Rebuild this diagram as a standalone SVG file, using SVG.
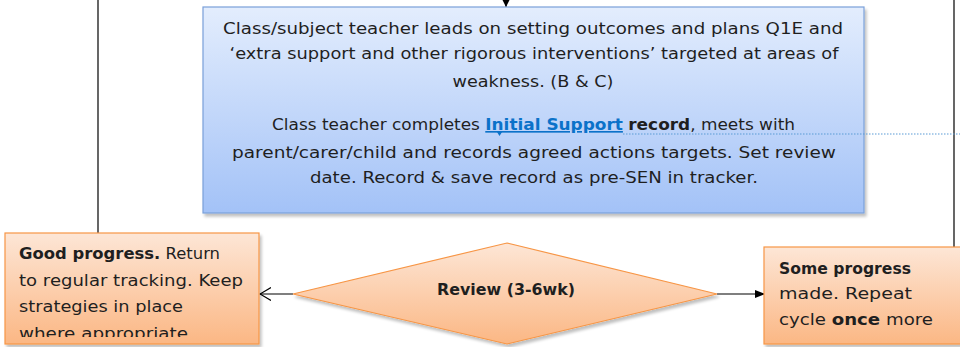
<svg xmlns="http://www.w3.org/2000/svg" width="960" height="347" viewBox="0 0 960 347">
<style>
  .t { font-family: "DejaVu Sans", "Liberation Sans", sans-serif; font-size: 16.5px; fill: #1f1f1f; }
  .b { font-weight: bold; }
  .link { fill: #0b72c9; font-weight: bold; text-decoration: underline; }
  .conn { stroke: #000; stroke-width: 1.2; fill: none; }
</style>
<defs>
  <linearGradient id="gBlue" x1="0" y1="0" x2="0" y2="1">
    <stop offset="0" stop-color="#e3edfd"/>
    <stop offset="1" stop-color="#a3c2f7"/>
  </linearGradient>
  <linearGradient id="gOrange" x1="0" y1="0" x2="0" y2="1">
    <stop offset="0" stop-color="#fde6d6"/>
    <stop offset="1" stop-color="#fbb784"/>
  </linearGradient>
  <filter id="shadow" x="-5%" y="-5%" width="115%" height="120%">
    <feGaussianBlur in="SourceAlpha" stdDeviation="1.5"/>
    <feOffset dx="2" dy="3" result="o"/>
    <feComponentTransfer><feFuncA type="linear" slope="0.25"/></feComponentTransfer>
    <feMerge><feMergeNode/><feMergeNode in="SourceGraphic"/></feMerge>
  </filter>
  <marker id="arrFill" markerWidth="10" markerHeight="10" refX="9" refY="5" orient="auto" markerUnits="userSpaceOnUse">
    <path d="M0,1 L10,5 L0,9 Z" fill="#000"/>
  </marker>
  <marker id="arrOpen" markerWidth="12" markerHeight="14" refX="11" refY="7" orient="auto" markerUnits="userSpaceOnUse">
    <path d="M0,0.5 L11,7 L0,13.5" fill="none" stroke="#000" stroke-width="1.2"/>
  </marker>
  <marker id="arrSmall" markerWidth="8" markerHeight="8" refX="7" refY="4" orient="auto" markerUnits="userSpaceOnUse">
    <path d="M0,0.5 L7,4 L0,7.5 Z" fill="#000"/>
  </marker>
  <clipPath id="clipLeft"><rect x="5" y="233" width="254" height="104"/></clipPath>
</defs>

<g id="connectors">
  <line class="conn" x1="98" y1="0" x2="98" y2="233"/>
  <line class="conn" x1="954" y1="0" x2="954" y2="247"/>
  <line class="conn" x1="506" y1="-10" x2="506" y2="7" marker-end="url(#arrSmall)"/>
  <line class="conn" x1="293" y1="294" x2="260" y2="294" marker-end="url(#arrOpen)"/>
  <line class="conn" x1="717" y1="294" x2="764" y2="294" marker-end="url(#arrFill)"/>
</g>

<g id="node-plan">
  <rect x="203" y="7" width="661" height="206" fill="url(#gBlue)" stroke="#7aa0d9" stroke-width="1.2" filter="url(#shadow)"/>
  <text class="t" x="533" y="34" text-anchor="middle" textLength="620" lengthAdjust="spacingAndGlyphs">Class/subject teacher leads on setting outcomes and plans Q1E and</text>
  <text class="t" x="534" y="59" text-anchor="middle" textLength="609" lengthAdjust="spacingAndGlyphs">‘extra support and other rigorous interventions’ targeted at areas of</text>
  <text class="t" x="533" y="87" text-anchor="middle" textLength="161" lengthAdjust="spacingAndGlyphs">weakness. (B &amp; C)</text>
  <text class="t" x="272" y="130" textLength="523" lengthAdjust="spacingAndGlyphs">Class teacher completes <tspan class="link">Initial Support</tspan> <tspan class="b">record</tspan>, meets with</text>
  <text class="t" x="534" y="158" text-anchor="middle" textLength="604" lengthAdjust="spacingAndGlyphs">parent/carer/child and records agreed actions targets.  Set review</text>
  <text class="t" x="534" y="183" text-anchor="middle" textLength="448" lengthAdjust="spacingAndGlyphs">date. Record &amp; save record as pre-SEN in tracker.</text>
</g>

<g id="comment-link">
  <path d="M497,132 L502,132 L499.5,136 Z" fill="#0b72c9"/>
  <line x1="623" y1="134" x2="960" y2="134" stroke="#5b9bd5" stroke-width="1.2" stroke-dasharray="1.5,1.5"/>
</g>

<g id="node-good">
  <rect x="5" y="233" width="254" height="111" fill="url(#gOrange)" stroke="#f79646" stroke-width="1.2" filter="url(#shadow)"/>
  <g clip-path="url(#clipLeft)">
    <text class="t" x="19" y="259" textLength="201" lengthAdjust="spacingAndGlyphs"><tspan class="b">Good progress.</tspan> Return</text>
    <text class="t" x="19" y="286" textLength="224" lengthAdjust="spacingAndGlyphs">to regular tracking. Keep</text>
    <text class="t" x="19" y="312" textLength="164" lengthAdjust="spacingAndGlyphs">strategies in place</text>
    <text class="t" x="19" y="339" textLength="169" lengthAdjust="spacingAndGlyphs">where appropriate</text>
  </g>
</g>

<g id="node-review">
  <path d="M507,243 L717,294 L507,344 L293,294 Z" fill="url(#gOrange)" stroke="#f79646" stroke-width="1.2" filter="url(#shadow)"/>
  <text class="t b" x="506" y="295" text-anchor="middle" textLength="138" lengthAdjust="spacingAndGlyphs">Review (3-6wk)</text>
</g>

<g id="node-some">
  <rect x="764" y="247" width="210" height="97" fill="url(#gOrange)" stroke="#f79646" stroke-width="1.2" filter="url(#shadow)"/>
  <text class="t b" x="779" y="274" textLength="132" lengthAdjust="spacingAndGlyphs">Some progress</text>
  <text class="t" x="779" y="299" textLength="133" lengthAdjust="spacingAndGlyphs">made. Repeat</text>
  <text class="t" x="779" y="325" textLength="154" lengthAdjust="spacingAndGlyphs">cycle <tspan class="b">once</tspan> more</text>
</g>
</svg>
